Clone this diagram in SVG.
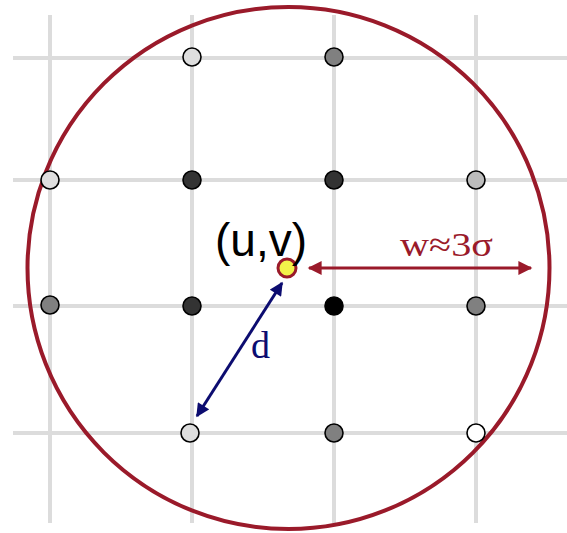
<svg xmlns="http://www.w3.org/2000/svg" width="567" height="533" viewBox="0 0 567 533">
<defs>
<style>
.grid{stroke:#dcdcdc;stroke-width:4;fill:none}
.pt{stroke:#000;stroke-width:1.6}
.red{stroke:#9a1a2a;fill:none}
.navy{stroke:#0c0c70;fill:none}
</style>
<marker id="ar" viewBox="0 0 10 10" refX="9" refY="5" markerWidth="5.5" markerHeight="5" orient="auto-start-reverse" markerUnits="strokeWidth">
<path d="M0,0 L10,5 L0,10 z" fill="#9a1a2a"/>
</marker>
<marker id="an" viewBox="0 0 10 10" refX="9" refY="5" markerWidth="5" markerHeight="4.5" orient="auto-start-reverse" markerUnits="strokeWidth">
<path d="M0,0 L10,5 L0,10 z" fill="#0c0c70"/>
</marker>
</defs>
<rect width="567" height="533" fill="#fff"/>
<g id="grid">
<line class="grid" x1="50" y1="15" x2="50" y2="523"/>
<line class="grid" x1="192" y1="15" x2="192" y2="523"/>
<line class="grid" x1="334" y1="15" x2="334" y2="523"/>
<line class="grid" x1="476" y1="15" x2="476" y2="523"/>
<line class="grid" x1="13" y1="58" x2="567" y2="58"/>
<line class="grid" x1="13" y1="180" x2="567" y2="180"/>
<line class="grid" x1="13" y1="306" x2="567" y2="306"/>
<line class="grid" x1="13" y1="433" x2="567" y2="433"/>
</g>
<g id="window">
<circle class="red" cx="288.5" cy="268" r="261" stroke-width="4"/>
</g>
<g id="samples">
<circle class="pt" cx="192" cy="57" r="9" fill="#dedede"/>
<circle class="pt" cx="334" cy="57" r="9" fill="#808080"/>
<circle class="pt" cx="50" cy="180" r="9" fill="#dedede"/>
<circle class="pt" cx="192" cy="180" r="9" fill="#333"/>
<circle class="pt" cx="334" cy="180" r="9" fill="#333"/>
<circle class="pt" cx="476" cy="180" r="9" fill="#bdbdbd"/>
<circle class="pt" cx="50" cy="305" r="9" fill="#808080"/>
<circle class="pt" cx="192" cy="306" r="9" fill="#333"/>
<circle class="pt" cx="334" cy="306" r="9" fill="#000"/>
<circle class="pt" cx="476" cy="306" r="9" fill="#808080"/>
<circle class="pt" cx="190" cy="433" r="9" fill="#dedede"/>
<circle class="pt" cx="334" cy="433" r="9" fill="#808080"/>
<circle class="pt" cx="476" cy="433" r="9" fill="#fff"/>
</g>
<g id="connectors">
<line class="red" x1="309" y1="268" x2="531" y2="268" stroke-width="2.8" marker-start="url(#ar)" marker-end="url(#ar)"/>
<line class="navy" x1="197" y1="416" x2="282" y2="283" stroke-width="3" marker-start="url(#an)" marker-end="url(#an)"/>
</g>
<g id="center">
<circle cx="287" cy="268" r="9" fill="#f2f24a" stroke="#9a1a2a" stroke-width="3"/>
<text x="215" y="256" font-family="Liberation Sans, Arial, sans-serif" font-size="46" fill="#000">(u,v)</text>
</g>
<g id="labels">
<text x="400" y="256" font-family="Liberation Serif, Times New Roman, serif" font-size="34" fill="#9a1a2a" textLength="93" lengthAdjust="spacingAndGlyphs">w≈3σ</text>
<text x="251" y="358" font-family="Liberation Serif, Times New Roman, serif" font-size="38" fill="#0c0c70">d</text>
</g>
</svg>
